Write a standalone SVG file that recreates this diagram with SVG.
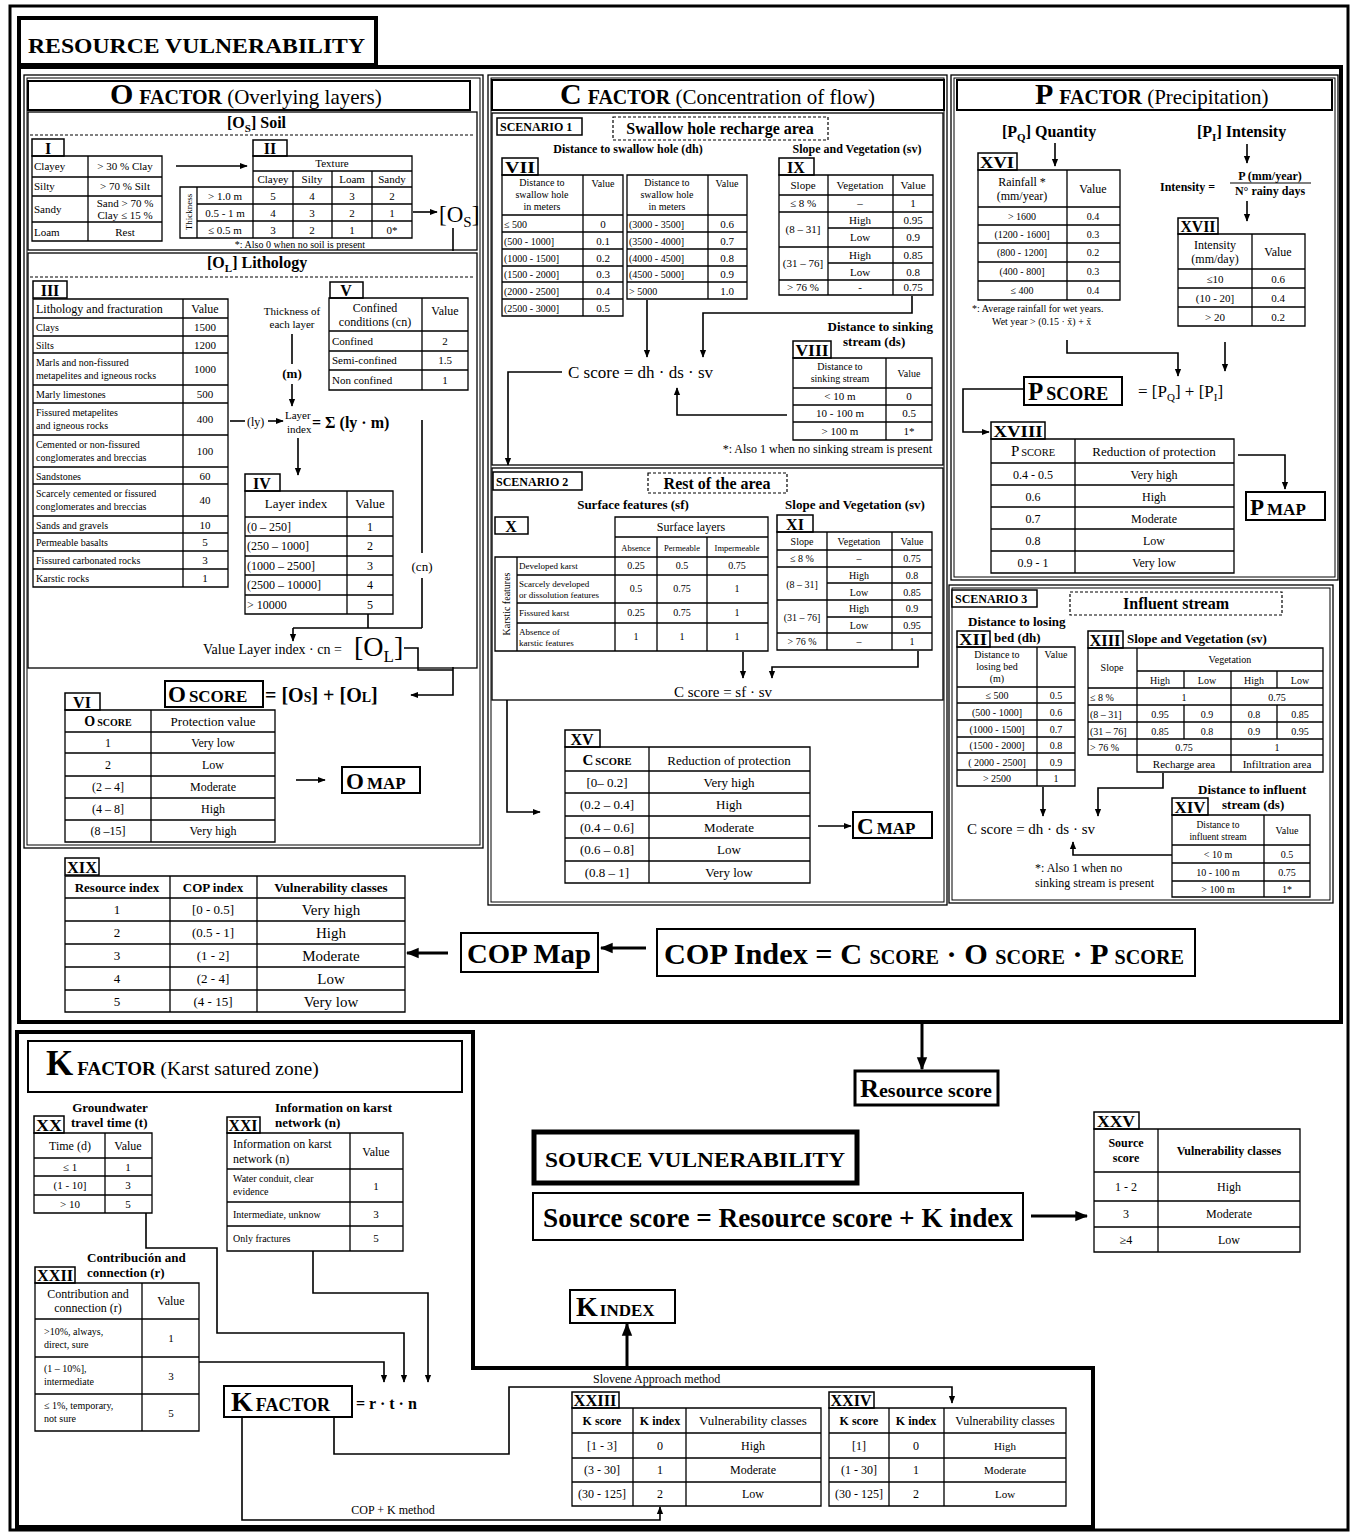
<svg xmlns="http://www.w3.org/2000/svg" width="1356" height="1533" viewBox="0 0 1356 1533">
<defs>
<marker id="a" viewBox="0 0 10 10" refX="9" refY="5" markerWidth="8" markerHeight="8" orient="auto" markerUnits="userSpaceOnUse"><path d="M0,1L10,5L0,9z"/></marker>
<marker id="b" viewBox="0 0 10 10" refX="9" refY="5" markerWidth="13" markerHeight="13" orient="auto" markerUnits="userSpaceOnUse"><path d="M0,1L10,5L0,9z"/></marker>
<style>
text{font-family:"Liberation Serif","Times New Roman",serif;fill:#000}
.c{text-anchor:middle}
.e{text-anchor:end}
.b{font-weight:bold}
.f9{font-size:9px}.f10{font-size:10px}.f11{font-size:11px}.f12{font-size:12px}.f13{font-size:13px}.f14{font-size:14px}.f15{font-size:15px}.f16{font-size:16px}
.g{fill:none;stroke:#000;stroke-width:1.3}
.lb{fill:#fff;stroke:#000;stroke-width:1.5}
.lt{font-size:16px;font-weight:bold;text-anchor:middle}
.bx{fill:none;stroke:#000;stroke-width:2}
.th{fill:none;stroke:#000;stroke-width:4}
.ln{fill:none;stroke:#000;stroke-width:1.6}
.ar{fill:none;stroke:#000;stroke-width:1.6;marker-end:url(#a)}
.ab{fill:none;stroke:#000;stroke-width:3;marker-end:url(#b)}
.dsh{fill:none;stroke:#000;stroke-width:1.2;stroke-dasharray:3 2}
</style>
</defs>
<rect width="1356" height="1533" fill="#fff"/>
<g id="frame">
<rect x="10" y="6" width="1338" height="1524" fill="none" stroke="#000" stroke-width="3"/>
<rect x="19" y="67" width="1322" height="955" class="th"/>
<path d="M17,1032H473V1368H1093V1527H17Z" class="th"/>
</g>
<g id="resource-title">
<rect x="19" y="18" width="357" height="47" class="th"/>
<text x="28" y="53" class="b" font-size="22" textLength="337" lengthAdjust="spacingAndGlyphs">RESOURCE VULNERABILITY</text>
</g>

<!-- O FACTOR -->
<g id="o-factor">
<rect x="24" y="75" width="459" height="773" class="g"/>
<rect x="27" y="78" width="453" height="767" fill="none" stroke="#000" stroke-width="1"/>
<rect x="28" y="81" width="442" height="29" class="bx" fill="#fff"/>
<text x="110" y="104" class="b"><tspan font-size="30">O</tspan><tspan font-size="20" dx="6">FACTOR</tspan><tspan font-weight="normal" font-size="21"> (Overlying layers)</tspan></text>
</g>
<g id="soil">
<rect x="28" y="112" width="449" height="138" class="g"/>
<line x1="30" y1="135" x2="475" y2="135" class="dsh"/>
<text x="227" y="128" class="b f16">[O<tspan font-size="11" dy="4">S</tspan><tspan dy="-4">] Soil</tspan></text>
<text x="300" y="248" class="c f10">*: Also 0 when no soil is present</text>
<text x="439" y="222" font-size="23">[O<tspan font-size="15" dy="5">S</tspan><tspan dy="-5">]</tspan></text>
</g>
<g id="table-I">
<rect x="32" y="139" width="32" height="17" class="lb"/><text x="48" y="154" class="lt">I</text>
<path class="g" d="M32,156H162V241H32ZM32,177H162M32,196H162M32,222H162M88,156V241"/>
<g class="f11"><text x="34" y="170">Clayey</text><text x="34" y="190">Silty</text><text x="34" y="213">Sandy</text><text x="34" y="236">Loam</text></g>
<g class="f11 c"><text x="125" y="170">&gt; 30 % Clay</text><text x="125" y="190">&gt; 70 % Silt</text><text x="125" y="207">Sand &gt; 70 %</text><text x="125" y="219">Clay ≤ 15 %</text><text x="125" y="236">Rest</text></g>
</g>
<g id="table-II">
<rect x="253" y="140" width="34" height="16" class="lb"/><text x="270" y="154" class="lt">II</text>
<path class="g" d="M253,156H412V187H253ZM180,187H412V238H180ZM253,171H412M197,204H412M197,221H412M197,187V238M253,187V238M293,171V238M332,171V238M372,171V238"/>
<text x="332" y="167" class="c f11">Texture</text>
<g class="c f11"><text x="273" y="183">Clayey</text><text x="312" y="183">Silty</text><text x="352" y="183">Loam</text><text x="392" y="183">Sandy</text>
<text x="225" y="200">&gt; 1.0 m</text><text x="225" y="217">0.5 - 1 m</text><text x="225" y="234">≤ 0.5 m</text>
<text x="273" y="200">5</text><text x="312" y="200">4</text><text x="352" y="200">3</text><text x="392" y="200">2</text>
<text x="273" y="217">4</text><text x="312" y="217">3</text><text x="352" y="217">2</text><text x="392" y="217">1</text>
<text x="273" y="234">3</text><text x="312" y="234">2</text><text x="352" y="234">1</text><text x="392" y="234">0*</text></g>
<text transform="translate(192,212) rotate(-90)" class="c f9">Thickness</text>
</g>
<g id="lithology">
<rect x="28" y="253" width="449" height="415" class="g"/>
<line x1="30" y1="277" x2="475" y2="277" class="dsh"/>
<text x="207" y="268" class="b f16">[O<tspan font-size="11" dy="4">L</tspan><tspan dy="-4">] Lithology</tspan></text>
<text x="292" y="315" class="c f11">Thickness of</text><text x="292" y="328" class="c f11">each layer</text>
<text x="292" y="378" class="c b f13">(m)</text>
<text x="247" y="426" class="f12">(ly)</text>
<text x="285" y="419" class="f11">Layer</text><text x="287" y="433" class="f11">index</text>
<text x="312" y="428" class="b f16">= Σ (ly · m)</text>
<text x="422" y="571" class="c f13">(cn)</text>
<text x="203" y="654" font-size="14">Value Layer index · cn =</text>
<text x="354" y="656" font-size="28">[O<tspan font-size="17" dy="6">L</tspan><tspan dy="-6">]</tspan></text>
</g>
<g id="table-III">
<rect x="33" y="281" width="34" height="17" class="lb"/><text x="50" y="296" class="lt">III</text>
<path class="g" d="M33,299H228V587H33ZM183,299V587M33,318H228M33,336H228M33,353H228M33,385H228M33,403H228M33,435H228M33,467H228M33,484H228M33,516H228M33,533H228M33,551H228M33,569H228"/>
<text x="36" y="313" class="f12">Lithology and fracturation</text><text x="205" y="313" class="c f12">Value</text>
<g class="f10"><text x="36" y="331">Clays</text><text x="36" y="349">Silts</text>
<text x="36" y="366">Marls and non-fissured</text><text x="36" y="379">metapelites and igneous rocks</text>
<text x="36" y="398">Marly limestones</text>
<text x="36" y="416">Fissured metapelites</text><text x="36" y="429">and igneous rocks</text>
<text x="36" y="448">Cemented or non-fissured</text><text x="36" y="461">conglomerates and  breccias</text>
<text x="36" y="480">Sandstones</text>
<text x="36" y="497">Scarcely cemented or fissured</text><text x="36" y="510">conglomerates and  breccias</text>
<text x="36" y="529">Sands and gravels</text><text x="36" y="546">Permeable basalts</text><text x="36" y="564">Fissured carbonated rocks</text><text x="36" y="582">Karstic rocks</text></g>
<g class="c f11"><text x="205" y="331">1500</text><text x="205" y="349">1200</text><text x="205" y="373">1000</text><text x="205" y="398">500</text><text x="205" y="423">400</text><text x="205" y="455">100</text><text x="205" y="480">60</text><text x="205" y="504">40</text><text x="205" y="529">10</text><text x="205" y="546">5</text><text x="205" y="564">3</text><text x="205" y="582">1</text></g>
</g>
<g id="table-V">
<rect x="330" y="282" width="33" height="16" class="lb"/><text x="346" y="296" class="lt">V</text>
<path class="g" d="M329,298H468V390H329ZM422,298V390M329,331H468M329,351H468M329,370H468"/>
<text x="375" y="312" class="c f12">Confined</text><text x="375" y="326" class="c f12">conditions (cn)</text><text x="445" y="315" class="c f12">Value</text>
<g class="f11"><text x="332" y="345">Confined</text><text x="332" y="364">Semi-confined</text><text x="332" y="384">Non confined</text></g>
<g class="c f11"><text x="445" y="345">2</text><text x="445" y="364">1.5</text><text x="445" y="384">1</text></g>
</g>
<g id="table-IV">
<rect x="245" y="474" width="35" height="17" class="lb"/><text x="262" y="489" class="lt">IV</text>
<path class="g" d="M245,491H393V614H245ZM347,491V614M245,517H393M245,536H393M245,556H393M245,575H393M245,595H393"/>
<text x="296" y="508" class="c f13">Layer index</text><text x="370" y="508" class="c f13">Value</text>
<g class="f12"><text x="247" y="531">(0 – 250]</text><text x="247" y="550">(250 – 1000]</text><text x="247" y="570">(1000 – 2500]</text><text x="247" y="589">(2500 – 10000]</text><text x="247" y="609">&gt; 10000</text></g>
<g class="c f12"><text x="370" y="531">1</text><text x="370" y="550">2</text><text x="370" y="570">3</text><text x="370" y="589">4</text><text x="370" y="609">5</text></g>
</g>
<g id="o-score">
<rect x="165" y="681" width="98" height="26" class="bx"/>
<text x="168" y="702" class="b"><tspan font-size="23">O</tspan><tspan font-size="17" dx="3">SCORE</tspan></text>
<text x="265" y="702" class="b" font-size="20">= [O<tspan font-size="14">S</tspan>] + [O<tspan font-size="14">L</tspan>]</text>
</g>
<g id="table-VI">
<rect x="65" y="693" width="35" height="17" class="lb"/><text x="82" y="708" class="lt">VI</text>
<path class="g" d="M65,710H275V842H65ZM151,710V842M65,732H275M65,753H275M65,776H275M65,798H275M65,820H275"/>
<text x="108" y="726" class="c b"><tspan font-size="14">O</tspan><tspan font-size="10" dx="2">SCORE</tspan></text>
<text x="213" y="726" class="c f13">Protection value</text>
<g class="c f12"><text x="108" y="747">1</text><text x="108" y="769">2</text><text x="108" y="791">(2 – 4]</text><text x="108" y="813">(4 – 8]</text><text x="108" y="835">(8 –15]</text>
<text x="213" y="747">Very low</text><text x="213" y="769">Low</text><text x="213" y="791">Moderate</text><text x="213" y="813">High</text><text x="213" y="835">Very high</text></g>
</g>
<g id="o-map">
<rect x="342" y="767" width="78" height="26" class="bx"/>
<text x="346" y="789" class="b"><tspan font-size="23">O</tspan><tspan font-size="17" dx="3">MAP</tspan></text>
</g>

<!-- C FACTOR -->
<g id="c-factor">
<rect x="488" y="75" width="459" height="830" class="g"/>
<rect x="491" y="78" width="453" height="824" fill="none" stroke="#000" stroke-width="1"/>
<rect x="492" y="80" width="452" height="30" class="bx" fill="#fff"/>
<text x="560" y="104" class="b"><tspan font-size="30">C</tspan><tspan font-size="20" dx="6">FACTOR</tspan><tspan font-weight="normal" font-size="21"> (Concentration of flow)</tspan></text>
</g>
<g id="scenario-1">
<rect x="492" y="113" width="451" height="352" class="g" fill="#fff"/>
<rect x="497" y="118" width="85" height="17" class="lb"/><text x="500" y="131" class="b f12">SCENARIO 1</text>
<rect x="613" y="117" width="215" height="23" class="dsh"/><text x="720" y="134" class="c b f16">Swallow hole recharge area</text>
<text x="628" y="153" class="c b f12">Distance to swallow hole (dh)</text>
<text x="857" y="153" class="c b f12">Slope and Vegetation (sv)</text>
<text x="568" y="378" font-size="17">C score = dh · ds · sv</text>
<text x="933" y="331" class="e b f13">Distance to sinking</text>
<text x="843" y="346" class="b f13">stream (ds)</text>
<text x="932" y="453" class="e f12">*: Also 1 when no sinking stream is present</text>
</g>
<g id="table-VII">
<rect x="502" y="158" width="36" height="17" class="lb"/><text x="520" y="173" class="lt" textLength="30" lengthAdjust="spacingAndGlyphs">VII</text>
<path class="g" d="M502,175H623V316H502ZM583,175V316M502,215H623M502,232H623M502,249H623M502,266H623M502,282H623M502,299H623"/>
<path class="g" d="M627,175H747V299H627ZM708,175V299M627,215H747M627,232H747M627,249H747M627,266H747M627,282H747"/>
<g class="c f10"><text x="542" y="186">Distance to</text><text x="542" y="198">swallow hole</text><text x="542" y="210">in meters</text><text x="603" y="187">Value</text>
<text x="667" y="186">Distance to</text><text x="667" y="198">swallow hole</text><text x="667" y="210">in meters</text><text x="727" y="187">Value</text></g>
<g class="f10"><text x="504" y="228">≤ 500</text><text x="504" y="245">(500 - 1000]</text><text x="504" y="262">(1000 - 1500]</text><text x="504" y="278">(1500 - 2000]</text><text x="504" y="295">(2000 - 2500]</text><text x="504" y="312">(2500 - 3000]</text>
<text x="629" y="228">(3000 - 3500]</text><text x="629" y="245">(3500 - 4000]</text><text x="629" y="262">(4000 - 4500]</text><text x="629" y="278">(4500 - 5000]</text><text x="629" y="295">&gt; 5000</text></g>
<g class="c f11"><text x="603" y="228">0</text><text x="603" y="245">0.1</text><text x="603" y="262">0.2</text><text x="603" y="278">0.3</text><text x="603" y="295">0.4</text><text x="603" y="312">0.5</text>
<text x="727" y="228">0.6</text><text x="727" y="245">0.7</text><text x="727" y="262">0.8</text><text x="727" y="278">0.9</text><text x="727" y="295">1.0</text></g>
</g>
<g id="table-IX">
<rect x="779" y="158" width="35" height="17" class="lb"/><text x="796" y="173" class="lt">IX</text>
<path class="g" d="M779,175H933V295H779ZM828,175V295M893,175V295M779,195H933M779,212H933M779,247H933M779,280H933M828,228H933M828,263H933"/>
<g class="c f11"><text x="803" y="189">Slope</text><text x="860" y="189">Vegetation</text><text x="913" y="189">Value</text>
<text x="803" y="207">≤ 8 %</text><text x="860" y="207">–</text><text x="913" y="207">1</text>
<text x="803" y="233">(8 – 31]</text><text x="860" y="224">High</text><text x="913" y="224">0.95</text><text x="860" y="241">Low</text><text x="913" y="241">0.9</text>
<text x="803" y="267">(31 – 76]</text><text x="860" y="259">High</text><text x="913" y="259">0.85</text><text x="860" y="276">Low</text><text x="913" y="276">0.8</text>
<text x="803" y="291">&gt; 76 %</text><text x="860" y="291">-</text><text x="913" y="291">0.75</text></g>
</g>
<g id="table-VIII">
<rect x="793" y="341" width="38" height="17" class="lb"/><text x="812" y="356" class="lt" textLength="33" lengthAdjust="spacingAndGlyphs">VIII</text>
<path class="g" d="M793,358H932V440H793ZM886,358V440M793,388H932M793,405H932M793,422H932"/>
<g class="c f10"><text x="840" y="370">Distance to</text><text x="840" y="382">sinking stream</text><text x="909" y="377">Value</text></g>
<g class="c f11"><text x="840" y="400">&lt; 10 m</text><text x="840" y="417">10 - 100 m</text><text x="840" y="435">&gt; 100 m</text>
<text x="909" y="400">0</text><text x="909" y="417">0.5</text><text x="909" y="435">1*</text></g>
</g>
<g id="scenario-2">
<rect x="492" y="468" width="451" height="232" class="g"/>
<rect x="493" y="472" width="89" height="18" class="lb"/><text x="496" y="486" class="b f12">SCENARIO 2</text>
<rect x="648" y="473" width="139" height="20" class="dsh"/><text x="717" y="489" class="c b f16">Rest of the area</text>
<text x="633" y="509" class="c b f13">Surface features (sf)</text>
<text x="855" y="509" class="c b f13">Slope and Vegetation (sv)</text>
<text x="723" y="697" class="c f15">C score = sf · sv</text>
</g>
<g id="table-X">
<rect x="495" y="517" width="33" height="17" class="lb"/><text x="511" y="532" class="lt">X</text>
<path class="g" d="M615,517H768V557H615ZM615,537H768M657,537V651M707,537V651M495,557H768V651H495ZM517,557V651M615,557V651M517,575H768M517,603H768M517,623H768"/>
<text x="691" y="531" class="c f12">Surface layers</text>
<g class="c" font-size="8.5"><text x="636" y="551">Absence</text><text x="682" y="551">Permeable</text><text x="737" y="551">Impermeable</text></g>
<text transform="translate(510,604) rotate(-90)" class="c f10">Karstic features</text>
<g class="f9"><text x="519" y="569">Developed karst</text><text x="519" y="587">Scarcely developed</text><text x="519" y="598">or dissolution features</text><text x="519" y="616">Fissured karst</text><text x="519" y="635">Absence of</text><text x="519" y="646">karstic features</text></g>
<g class="c f10"><text x="636" y="569">0.25</text><text x="682" y="569">0.5</text><text x="737" y="569">0.75</text>
<text x="636" y="592">0.5</text><text x="682" y="592">0.75</text><text x="737" y="592">1</text>
<text x="636" y="616">0.25</text><text x="682" y="616">0.75</text><text x="737" y="616">1</text>
<text x="636" y="640">1</text><text x="682" y="640">1</text><text x="737" y="640">1</text></g>
</g>
<g id="table-XI">
<rect x="777" y="515" width="36" height="17" class="lb"/><text x="795" y="530" class="lt">XI</text>
<path class="g" d="M777,532H932V650H777ZM827,532V650M892,532V650M777,550H932M777,567H932M777,600H932M777,633H932M827,583H932M827,617H932"/>
<g class="c f10"><text x="802" y="545">Slope</text><text x="859" y="545">Vegetation</text><text x="912" y="545">Value</text>
<text x="802" y="562">≤ 8 %</text><text x="859" y="562">–</text><text x="912" y="562">0.75</text>
<text x="802" y="588">(8 – 31]</text><text x="859" y="579">High</text><text x="912" y="579">0.8</text><text x="859" y="596">Low</text><text x="912" y="596">0.85</text>
<text x="802" y="621">(31 – 76]</text><text x="859" y="612">High</text><text x="912" y="612">0.9</text><text x="859" y="629">Low</text><text x="912" y="629">0.95</text>
<text x="802" y="645">&gt; 76 %</text><text x="859" y="645">–</text><text x="912" y="645">1</text></g>
</g>
<g id="table-XV">
<rect x="565" y="730" width="35" height="17" class="lb"/><text x="582" y="745" class="lt">XV</text>
<path class="g" d="M565,747H810V883H565ZM649,747V883M565,771H810M565,793H810M565,816H810M565,838H810M565,861H810"/>
<text x="607" y="765" class="c b"><tspan font-size="15">C</tspan><tspan font-size="10.5" dx="2">SCORE</tspan></text>
<text x="729" y="765" class="c f13">Reduction of protection</text>
<g class="c f13"><text x="607" y="787">[0– 0.2]</text><text x="607" y="809">(0.2 – 0.4]</text><text x="607" y="832">(0.4 – 0.6]</text><text x="607" y="854">(0.6 – 0.8]</text><text x="607" y="877">(0.8 – 1]</text>
<text x="729" y="787">Very high</text><text x="729" y="809">High</text><text x="729" y="832">Moderate</text><text x="729" y="854">Low</text><text x="729" y="877">Very low</text></g>
</g>
<g id="c-map">
<rect x="853" y="812" width="79" height="26" class="bx"/>
<text x="857" y="834" class="b"><tspan font-size="23">C</tspan><tspan font-size="17" dx="3">MAP</tspan></text>
</g>

<!-- P FACTOR -->
<g id="p-factor">
<rect x="951" y="75" width="387" height="505" class="g"/>
<rect x="954" y="78" width="381" height="499" fill="none" stroke="#000" stroke-width="1"/>
<rect x="957" y="80" width="375" height="30" class="bx" fill="#fff"/>
<text x="1035" y="104" class="b"><tspan font-size="30">P</tspan><tspan font-size="20" dx="6">FACTOR</tspan><tspan font-weight="normal" font-size="21"> (Precipitation)</tspan></text>
<text x="1002" y="137" class="b f16">[P<tspan font-size="11" dy="4">Q</tspan><tspan dy="-4">] Quantity</tspan></text>
<text x="1197" y="137" class="b f16">[P<tspan font-size="11" dy="4">I</tspan><tspan dy="-4">] Intensity</tspan></text>
<text x="1160" y="191" class="b f12">Intensity =</text>
<text x="1270" y="180" class="c b f12">P (mm/year)</text>
<line x1="1230" y1="183" x2="1311" y2="183" stroke="#000" stroke-width="1.2"/>
<text x="1270" y="195" class="c b f12">N° rainy days</text>
<text x="972" y="312" class="f10">*: Average rainfall for wet years.</text>
<text x="992" y="325" class="f10">Wet year &gt; (0.15 · x̄) + x̄</text>
</g>
<g id="table-XVI">
<rect x="978" y="153" width="39" height="17" class="lb"/><text x="997" y="168" class="lt" textLength="34" lengthAdjust="spacingAndGlyphs">XVI</text>
<path class="g" d="M978,170H1120V300H978ZM1067,170V300M978,207H1120M978,225H1120M978,243H1120M978,262H1120M978,281H1120"/>
<g class="c f12"><text x="1022" y="186">Rainfall *</text><text x="1022" y="200">(mm/year)</text><text x="1093" y="193">Value</text></g>
<g class="c f10"><text x="1022" y="220">&gt; 1600</text><text x="1022" y="238">(1200 - 1600]</text><text x="1022" y="256">(800 - 1200]</text><text x="1022" y="275">(400 - 800]</text><text x="1022" y="294">≤ 400</text>
<text x="1093" y="220">0.4</text><text x="1093" y="238">0.3</text><text x="1093" y="256">0.2</text><text x="1093" y="275">0.3</text><text x="1093" y="294">0.4</text></g>
</g>
<g id="table-XVII">
<rect x="1178" y="218" width="40" height="16" class="lb"/><text x="1198" y="232" class="lt" textLength="35" lengthAdjust="spacingAndGlyphs">XVII</text>
<path class="g" d="M1178,234H1305V326H1178ZM1252,234V326M1178,269H1305M1178,288H1305M1178,307H1305"/>
<g class="c f12"><text x="1215" y="249">Intensity</text><text x="1215" y="263">(mm/day)</text><text x="1278" y="256">Value</text></g>
<g class="c f11"><text x="1215" y="283">≤10</text><text x="1215" y="302">(10 - 20]</text><text x="1215" y="321">&gt; 20</text>
<text x="1278" y="283">0.6</text><text x="1278" y="302">0.4</text><text x="1278" y="321">0.2</text></g>
</g>
<g id="p-score">
<rect x="1024" y="377" width="98" height="28" class="bx"/>
<text x="1028" y="400" class="b"><tspan font-size="25">P</tspan><tspan font-size="18" dx="3">SCORE</tspan></text>
<text x="1138" y="397" font-size="17">=   [P<tspan font-size="11" dy="4">Q</tspan><tspan dy="-4">] + [P</tspan><tspan font-size="11" dy="4">I</tspan><tspan dy="-4">]</tspan></text>
</g>
<g id="table-XVIII">
<rect x="991" y="422" width="54" height="17" class="lb"/><text x="1018" y="437" class="lt" textLength="49" lengthAdjust="spacingAndGlyphs">XVIII</text>
<path class="g" d="M991,439H1234V573H991ZM1075,439V573M991,463H1234M991,485H1234M991,507H1234M991,529H1234M991,551H1234"/>
<text x="1033" y="456" class="c"><tspan font-size="15">P</tspan><tspan font-size="10.5" dx="2">SCORE</tspan></text>
<text x="1154" y="456" class="c f13">Reduction of protection</text>
<g class="c f12"><text x="1033" y="479">0.4 - 0.5</text><text x="1033" y="501">0.6</text><text x="1033" y="523">0.7</text><text x="1033" y="545">0.8</text><text x="1033" y="567">0.9 - 1</text>
<text x="1154" y="479">Very high</text><text x="1154" y="501">High</text><text x="1154" y="523">Moderate</text><text x="1154" y="545">Low</text><text x="1154" y="567">Very low</text></g>
</g>
<g id="p-map">
<rect x="1246" y="492" width="79" height="28" class="bx"/>
<text x="1250" y="515" class="b"><tspan font-size="23">P</tspan><tspan font-size="17" dx="3">MAP</tspan></text>
</g>

<!-- SCENARIO 3 -->
<g id="scenario-3">
<rect x="949" y="585" width="384" height="318" class="g"/>
<rect x="952" y="588" width="378" height="312" fill="none" stroke="#000" stroke-width="1"/>
<rect x="952" y="590" width="85" height="17" class="lb"/><text x="955" y="603" class="b f12">SCENARIO 3</text>
<rect x="1070" y="592" width="212" height="23" class="dsh"/><text x="1176" y="609" class="c b f16">Influent stream</text>
<text x="968" y="626" class="b f13">Distance to losing</text>
<text x="994" y="642" class="b f13">bed (dh)</text>
<text x="1127" y="643" class="b f13">Slope and Vegetation (sv)</text>
<text x="967" y="834" class="f15">C score = dh · ds · sv</text>
<text x="1198" y="794" class="b f13">Distance to influent</text>
<text x="1222" y="809" class="b f13">stream (ds)</text>
<text x="1035" y="872" class="f12">*: Also 1 when no</text>
<text x="1035" y="887" class="f12">sinking stream is present</text>
</g>
<g id="table-XII">
<rect x="957" y="631" width="33" height="16" class="lb"/><text x="973" y="645" class="lt" textLength="28" lengthAdjust="spacingAndGlyphs">XII</text>
<path class="g" d="M957,647H1075V786H957ZM1037,647V786M957,687H1075M957,703H1075M957,720H1075M957,737H1075M957,753H1075M957,770H1075"/>
<g class="c f10"><text x="997" y="658">Distance to</text><text x="997" y="670">losing bed</text><text x="997" y="682">(m)</text><text x="1056" y="658">Value</text>
<text x="997" y="699">≤ 500</text><text x="997" y="716">(500 - 1000]</text><text x="997" y="733">(1000 - 1500]</text><text x="997" y="749">(1500 - 2000]</text><text x="997" y="766">( 2000 - 2500]</text><text x="997" y="782">&gt; 2500</text>
<text x="1056" y="699">0.5</text><text x="1056" y="716">0.6</text><text x="1056" y="733">0.7</text><text x="1056" y="749">0.8</text><text x="1056" y="766">0.9</text><text x="1056" y="782">1</text></g>
</g>
<g id="table-XIII">
<rect x="1088" y="631" width="35" height="17" class="lb"/><text x="1105" y="646" class="lt" textLength="31" lengthAdjust="spacingAndGlyphs">XIII</text>
<path class="g" d="M1088,648H1323V755H1088ZM1137,648V772H1323V755M1137,671H1323M1088,688H1323M1088,705H1323M1088,722H1323M1088,739H1323M1231,671V772M1184,671V688M1277,671V688M1184,705V739M1277,705V739"/>
<g class="c f10"><text x="1112" y="671">Slope</text><text x="1230" y="663">Vegetation</text>
<text x="1160" y="684">High</text><text x="1207" y="684">Low</text><text x="1254" y="684">High</text><text x="1300" y="684">Low</text>
<text x="1184" y="701">1</text><text x="1277" y="701">0.75</text>
<text x="1160" y="718">0.95</text><text x="1207" y="718">0.9</text><text x="1254" y="718">0.8</text><text x="1300" y="718">0.85</text>
<text x="1160" y="735">0.85</text><text x="1207" y="735">0.8</text><text x="1254" y="735">0.9</text><text x="1300" y="735">0.95</text>
<text x="1184" y="751">0.75</text><text x="1277" y="751">1</text></g>
<g class="f10"><text x="1090" y="701">≤ 8 %</text><text x="1090" y="718">(8 – 31]</text><text x="1090" y="735">(31 – 76]</text><text x="1090" y="751">&gt; 76 %</text></g>
<g class="c f11"><text x="1184" y="768">Recharge area</text><text x="1277" y="768">Infiltration area</text></g>
</g>
<g id="table-XIV">
<rect x="1172" y="798" width="36" height="17" class="lb"/><text x="1190" y="813" class="lt" textLength="31" lengthAdjust="spacingAndGlyphs">XIV</text>
<path class="g" d="M1172,815H1310V897H1172ZM1264,815V897M1172,845H1310M1172,863H1310M1172,881H1310"/>
<g class="c" font-size="9.5"><text x="1218" y="828">Distance to</text><text x="1218" y="840">influent stream</text></g>
<g class="c f10"><text x="1287" y="834">Value</text>
<text x="1218" y="858">&lt; 10 m</text><text x="1218" y="876">10 - 100 m</text><text x="1218" y="893">&gt; 100 m</text>
<text x="1287" y="858">0.5</text><text x="1287" y="876">0.75</text><text x="1287" y="893">1*</text></g>
</g>

<!-- COP -->
<g id="table-XIX">
<rect x="65" y="858" width="34" height="17" class="lb"/><text x="82" y="873" class="lt" textLength="30" lengthAdjust="spacingAndGlyphs">XIX</text>
<path class="g" d="M65,876H405V1012H65ZM170,876V1012M257,876V1012M65,898H405M65,921H405M65,944H405M65,967H405M65,990H405"/>
<g class="c b f13"><text x="117" y="892">Resource index</text><text x="213" y="892">COP index</text><text x="331" y="892">Vulnerability classes</text></g>
<g class="c f13"><text x="117" y="914">1</text><text x="117" y="937">2</text><text x="117" y="960">3</text><text x="117" y="983">4</text><text x="117" y="1006">5</text>
<text x="213" y="914">[0 - 0.5]</text><text x="213" y="937">(0.5 - 1]</text><text x="213" y="960">(1 - 2]</text><text x="213" y="983">(2 - 4]</text><text x="213" y="1006">(4 - 15]</text></g>
<g class="c f15"><text x="331" y="915">Very high</text><text x="331" y="938">High</text><text x="331" y="961">Moderate</text><text x="331" y="984">Low</text><text x="331" y="1007">Very low</text></g>
</g>
<g id="cop-map">
<rect x="461" y="933" width="137" height="39" class="bx"/>
<text x="529" y="963" class="c b" font-size="28" textLength="124" lengthAdjust="spacingAndGlyphs">COP Map</text>
</g>
<g id="cop-index">
<rect x="657" y="929" width="538" height="47" class="bx"/>
<text x="664" y="964" class="b" font-size="30" textLength="520" lengthAdjust="spacingAndGlyphs">COP Index = C <tspan font-size="20">SCORE</tspan> · O <tspan font-size="20">SCORE</tspan> · P <tspan font-size="20">SCORE</tspan></text>
</g>
<g id="resource-score">
<rect x="855" y="1071" width="143" height="34" fill="none" stroke="#000" stroke-width="3"/>
<text x="926" y="1097" class="c b" textLength="132" lengthAdjust="spacingAndGlyphs"><tspan font-size="25">R</tspan><tspan font-size="19">esource score</tspan></text>
</g>

<!-- K FACTOR -->
<g id="k-factor">
<rect x="28" y="1041" width="434" height="51" class="bx"/>
<text x="46" y="1075"><tspan class="b" font-size="35">K</tspan><tspan class="b" font-size="19" dx="4">FACTOR</tspan><tspan font-size="19.5"> (Karst satured zone)</tspan></text>
<text x="110" y="1112" class="c b f13">Groundwater</text>
<text x="71" y="1127" class="b f13">travel time (t)</text>
<text x="275" y="1112" class="b f13">Information on karst</text>
<text x="275" y="1127" class="b f13">network (n)</text>
<text x="87" y="1262" class="b f13">Contribución and</text>
<text x="87" y="1277" class="b f13">connection (r)</text>
</g>
<g id="table-XX">
<rect x="34" y="1116" width="30" height="17" class="lb"/><text x="49" y="1131" class="lt" textLength="26" lengthAdjust="spacingAndGlyphs">XX</text>
<path class="g" d="M34,1133H152V1213H34ZM105,1133V1213M34,1158H152M34,1176H152M34,1195H152"/>
<g class="c f12"><text x="70" y="1150">Time (d)</text><text x="128" y="1150">Value</text></g>
<g class="c f11"><text x="70" y="1171">≤ 1</text><text x="70" y="1189">(1 - 10]</text><text x="70" y="1208">&gt; 10</text>
<text x="128" y="1171">1</text><text x="128" y="1189">3</text><text x="128" y="1208">5</text></g>
</g>
<g id="table-XXI">
<rect x="227" y="1117" width="33" height="16" class="lb"/><text x="243" y="1131" class="lt" textLength="29" lengthAdjust="spacingAndGlyphs">XXI</text>
<path class="g" d="M227,1133H403V1251H227ZM350,1133V1251M227,1169H403M227,1202H403M227,1226H403"/>
<g class="f12"><text x="233" y="1148">Information on karst</text><text x="233" y="1163">network (n)</text></g>
<text x="376" y="1156" class="c f12">Value</text>
<g class="f10"><text x="233" y="1182">Water conduit, clear</text><text x="233" y="1195">evidence</text><text x="233" y="1218">Intermediate, unknow</text><text x="233" y="1242">Only fractures</text></g>
<g class="c f11"><text x="376" y="1190">1</text><text x="376" y="1218">3</text><text x="376" y="1242">5</text></g>
</g>
<g id="table-XXII">
<rect x="35" y="1267" width="40" height="16" class="lb"/><text x="55" y="1281" class="lt" textLength="36" lengthAdjust="spacingAndGlyphs">XXII</text>
<path class="g" d="M35,1283H199V1431H35ZM142,1283V1431M35,1319H199M35,1357H199M35,1394H199"/>
<g class="c f12"><text x="88" y="1298">Contribution and</text><text x="88" y="1312">connection (r)</text><text x="171" y="1305">Value</text></g>
<g class="f10"><text x="44" y="1335">&gt;10%, always,</text><text x="44" y="1348">direct, sure</text><text x="44" y="1372">(1 – 10%],</text><text x="44" y="1385">intermediate</text><text x="44" y="1409">≤ 1%, temporary,</text><text x="44" y="1422">not sure</text></g>
<g class="c f11"><text x="171" y="1342">1</text><text x="171" y="1380">3</text><text x="171" y="1417">5</text></g>
</g>
<g id="k-factor-eq">
<rect x="224" y="1386" width="128" height="31" class="bx"/>
<text x="231" y="1411" class="b"><tspan font-size="28">K</tspan><tspan font-size="18" dx="3">FACTOR</tspan></text>
<text x="356" y="1409" class="b f16">=   r · t · n</text>
</g>
<g id="k-labels">
<text x="593" y="1383" class="f12">Slovene Approach method</text>
<text x="393" y="1514" class="c f12">COP + K method</text>
</g>
<g id="table-XXIII">
<rect x="572" y="1392" width="47" height="16" class="lb"/><text x="595" y="1406" class="lt" textLength="43" lengthAdjust="spacingAndGlyphs">XXIII</text>
<path class="g" d="M572,1408H821V1506H572ZM633,1408V1506M686,1408V1506M572,1433H821M572,1458H821M572,1482H821"/>
<g class="c b f12"><text x="602" y="1425">K score</text><text x="660" y="1425">K index</text></g>
<text x="753" y="1425" class="c f13">Vulnerability classes</text>
<g class="c f12"><text x="602" y="1450">[1 - 3]</text><text x="602" y="1474">(3 - 30]</text><text x="602" y="1498">(30 - 125]</text>
<text x="660" y="1450">0</text><text x="660" y="1474">1</text><text x="660" y="1498">2</text>
<text x="753" y="1450">High</text><text x="753" y="1474">Moderate</text><text x="753" y="1498">Low</text></g>
</g>
<g id="table-XXIV">
<rect x="829" y="1392" width="45" height="16" class="lb"/><text x="851" y="1406" class="lt" textLength="41" lengthAdjust="spacingAndGlyphs">XXIV</text>
<path class="g" d="M829,1408H1066V1506H829ZM889,1408V1506M944,1408V1506M829,1433H1066M829,1458H1066M829,1482H1066"/>
<g class="c b f12"><text x="859" y="1425">K score</text><text x="916" y="1425">K index</text></g>
<text x="1005" y="1425" class="c f12">Vulnerability classes</text>
<g class="c f12"><text x="859" y="1450">[1]</text><text x="859" y="1474">(1 - 30]</text><text x="859" y="1498">(30 - 125]</text>
<text x="916" y="1450">0</text><text x="916" y="1474">1</text><text x="916" y="1498">2</text></g>
<g class="c f11"><text x="1005" y="1450">High</text><text x="1005" y="1474">Moderate</text><text x="1005" y="1498">Low</text></g>
</g>
<g id="k-index">
<rect x="570" y="1290" width="105" height="33" class="bx"/>
<text x="576" y="1316" class="b"><tspan font-size="28">K</tspan><tspan font-size="17" dx="2">INDEX</tspan></text>
</g>
<g id="source-vulnerability">
<rect x="534" y="1132" width="323" height="51" stroke="#000" stroke-width="5" fill="none"/>
<text x="545" y="1167" class="b" font-size="22" textLength="300" lengthAdjust="spacingAndGlyphs">SOURCE VULNERABILITY</text>
</g>
<g id="source-score">
<rect x="533" y="1193" width="490" height="47" class="bx"/>
<text x="543" y="1227" class="b" font-size="28" textLength="470" lengthAdjust="spacingAndGlyphs">Source score = Resource score + K index</text>
</g>
<g id="table-XXV">
<rect x="1094" y="1112" width="45" height="17" class="lb"/><text x="1116" y="1127" class="lt" textLength="38" lengthAdjust="spacingAndGlyphs">XXV</text>
<path class="g" d="M1094,1129H1300V1252H1094ZM1158,1129V1252M1094,1172H1300M1094,1201H1300M1094,1227H1300"/>
<g class="c b f12"><text x="1126" y="1147">Source</text><text x="1126" y="1162">score</text><text x="1229" y="1155">Vulnerability classes</text></g>
<g class="c f12"><text x="1126" y="1191">1 - 2</text><text x="1126" y="1218">3</text><text x="1126" y="1244">≥4</text>
<text x="1229" y="1191">High</text><text x="1229" y="1218">Moderate</text><text x="1229" y="1244">Low</text></g>
</g>

<g id="connectors">
<path class="ar" d="M176,166H247"/>
<path class="ar" d="M413,212H437"/>
<path class="ln" d="M453,228V251"/>
<path class="ln" d="M292,334V364"/>
<path class="ar" d="M292,384V406"/>
<path class="ln" d="M230,421H245"/>
<path class="ar" d="M268,421H283"/>
<path class="ar" d="M298,438V475"/>
<path class="ln" d="M422,420V553M422,578V628M368,614V628M293,628H422"/>
<path class="ar" d="M293,628V641"/>
<path class="ln" d="M404,648H418V670H453"/>
<path class="ar" d="M453,667V695H411"/>
<path class="ar" d="M296,780H325"/>
<path class="ar" d="M647,300V357"/>
<path class="ar" d="M912,296V313H703V357"/>
<path class="ar" d="M562,372H508V465"/>
<path class="ar" d="M787,415H677V388"/>
<path class="ar" d="M743,652V678"/>
<path class="ar" d="M918,651V667H772V678"/>
<path class="ar" d="M507,700V812H540"/>
<path class="ar" d="M818,826H851"/>
<path class="ar" d="M1055,143V166"/>
<path class="ar" d="M1247,144V163"/>
<path class="ar" d="M1247,201V221"/>
<path class="ar" d="M1067,340V353H1178V376"/>
<path class="ar" d="M1225,342V371"/>
<path class="ar" d="M1024,389H963V432H989"/>
<path class="ar" d="M1238,455H1285V489"/>
<path class="ar" d="M1043,787V816"/>
<path class="ar" d="M1163,773V788H1098V816"/>
<path class="ar" d="M1172,855H1073V842"/>
<path class="ab" d="M448,953H407"/>
<path class="ab" d="M646,948H601"/>
<path class="ab" d="M922,1024V1069"/>
<path class="ab" d="M1031,1216H1087"/>
<path class="ab" d="M627,1368V1324"/>
<path class="ar" d="M146,1213V1248H217V1333H404V1382"/>
<path class="ar" d="M313,1251V1293H428V1382"/>
<path class="ar" d="M199,1362H384V1382"/>
<path class="ar" d="M334,1417V1454H509V1387H952V1403"/>
<path class="ar" d="M242,1417V1520H660V1507"/>
</g>
</svg>
